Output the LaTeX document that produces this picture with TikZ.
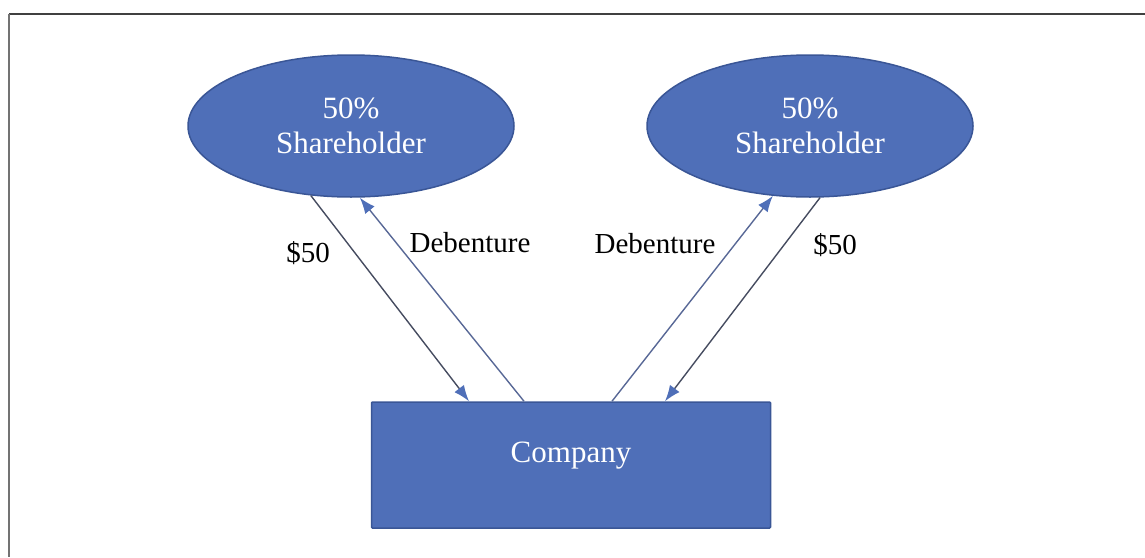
\documentclass[tikz,border=0pt]{standalone}
\usepackage{fontspec}
\setmainfont{Liberation Serif}
\usetikzlibrary{arrows.meta,shapes.geometric}
\definecolor{boxblue}{RGB}{79,111,184}
\definecolor{edgeblue}{RGB}{58,86,150}
\definecolor{cashline}{RGB}{70,76,96}
\definecolor{debline}{RGB}{88,104,150}
\begin{document}
\begin{tikzpicture}[
    x=1pt, y=-1pt,
    holder/.style={draw=edgeblue, line width=1.5pt, fill=boxblue, shape=ellipse,
        minimum width=326pt, minimum height=142pt, inner sep=0pt,
        text=white, align=center, font=\fontsize{31}{37}\selectfont},
    firm/.style={draw=edgeblue, line width=1.5pt, fill=boxblue, rectangle, rounded corners=1pt,
        minimum width=399pt, minimum height=126pt, text=white, font=\fontsize{31}{37}\selectfont},
    flow/.style={line width=1.4pt, -{Latex[length=16pt,width=12pt,color=boxblue]}},
    cash/.style={flow, draw=cashline},
    paper/.style={flow, draw=debline},
    tag/.style={font=\fontsize{29}{34}\selectfont, inner sep=0pt}
]
\useasboundingbox (0,0) rectangle (1145,557);
% frame
\draw[line width=2pt, black!75] (9,14) -- (1145,14);
\draw[line width=1.3pt, black!55] (9,14) -- (9,557);

\node[holder] (left) at (351,126) {\raisebox{-2pt}{50\%}\\Shareholder};
\node[holder] (right) at (810,126) {\raisebox{-2pt}{50\%}\\Shareholder};
\node[firm] (co) at (571,465) {\raisebox{3pt}[0pt][0pt]{Company}};

\draw[cash] (left.240) -- ([xshift=-102pt]co.north);
\draw[paper] ([xshift=-47pt]co.north) -- (left.277);
\draw[paper] ([xshift=41pt]co.north) -- (right.242);
\draw[cash] (right.278) -- ([xshift=94pt]co.north);

\node[tag] (cashl) at (308,253) {\$50};
\node[tag] (debl) at (470,243) {Debenture};
\node[tag] (debr) at (655,244) {Debenture};
\node[tag] (cashr) at (835,245) {\$50};
\end{tikzpicture}
\end{document}
